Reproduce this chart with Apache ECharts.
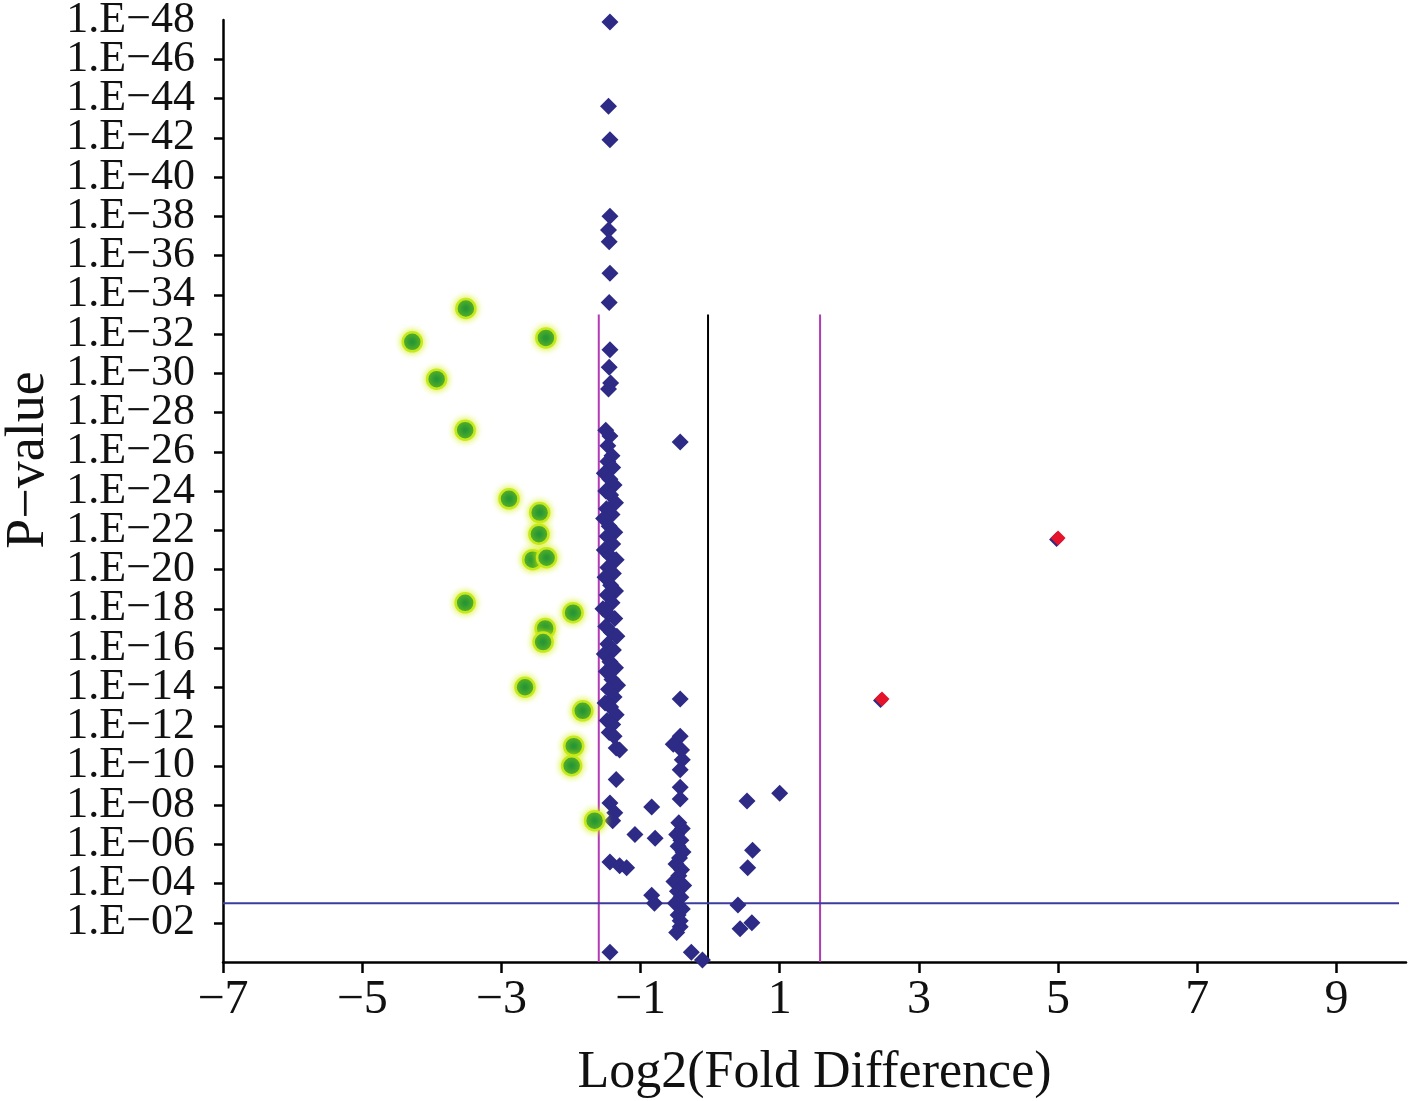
<!DOCTYPE html>
<html>
<head>
<meta charset="utf-8">
<script src="https://cdn.jsdelivr.net/npm/echarts@6/dist/echarts.min.js"></script>
<style>
html,body{margin:0;padding:0;background:#ffffff;}
#c{width:1418px;height:1101px;}
</style>
</head>
<body>
<div id="c"></div>
<script>
// ---- data ----
const xTicks = [-7, -5, -3, -1, 1, 3, 5, 7, 9];
const yTicks = [2,4,6,8,10,12,14,16,18,20,22,24,26,28,30,32,34,36,38,40,42,44,46,48];
const yTopTick = [48];

// non-significant genes (blue diamonds)
const bluePoints = [
  [-1.44,47.9],[-1.46,43.6],[-1.44,41.9],[-1.44,38.0],[-1.46,37.3],[-1.45,36.7],[-1.44,35.1],[-1.45,33.6],
  [-1.44,31.2],[-1.45,30.3],[-1.43,29.5],[-1.46,29.2],[-1.50,27.1],[-1.44,26.8],[-1.47,26.3],[-1.41,25.8],
  [-1.47,25.5],[-1.40,25.2],[-1.52,24.9],[-1.44,24.6],[-1.38,24.3],[-1.50,24.0],[-1.43,23.8],[-1.36,23.4],
  [-1.49,23.1],[-1.41,22.8],[-1.53,22.6],[-1.45,22.2],[-1.37,21.9],[-1.48,21.7],[-1.40,21.3],[-1.52,21.0],
  [-1.44,20.7],[-1.35,20.5],[-1.47,20.1],[-1.39,19.8],[-1.51,19.6],[-1.43,19.2],[-1.36,18.9],[-1.48,18.7],
  [-1.41,18.3],[-1.54,18.0],[-1.45,17.7],[-1.37,17.5],[-1.50,17.1],[-1.42,16.8],[-1.34,16.6],[-1.47,16.2],
  [-1.39,15.9],[-1.52,15.7],[-1.44,15.3],[-1.36,15.0],[-1.49,14.8],[-1.41,14.4],[-1.33,14.1],[-1.46,13.9],
  [-1.38,13.5],[-1.51,13.2],[-1.43,13.0],[-1.35,12.6],[-1.48,12.3],[-1.40,12.1],[-1.45,11.7],[-1.38,11.5],
  [-1.35,10.9],[-1.30,10.8],[-1.35,9.3],[-1.44,8.1],[-1.37,7.6],[-1.40,7.2],[-1.44,5.1],[-1.30,4.9],
  [-1.20,4.8],[-1.44,0.5],[-0.84,7.9],[-1.08,6.5],[-0.79,6.3],[-0.84,3.4],[-0.80,3.0],
  [-0.43,26.5],[-0.43,13.4],[-0.43,11.5],[-0.53,11.1],[-0.41,10.8],[-0.40,10.3],[-0.43,9.8],[-0.43,8.9],
  [-0.43,8.3],[-0.45,7.1],[-0.40,6.8],[-0.48,6.5],[-0.42,6.2],[-0.46,5.9],[-0.39,5.6],[-0.44,5.3],
  [-0.49,5.0],[-0.41,4.7],[-0.45,4.4],[-0.52,4.1],[-0.38,3.9],[-0.47,3.6],[-0.42,3.3],[-0.50,3.0],
  [-0.40,2.7],[-0.46,2.4],[-0.43,2.1],[-0.43,1.8],[-0.48,1.5],[-0.27,0.5],[-0.11,0.1],
  [0.53,8.2],[1.00,8.6],[0.61,5.7],[0.54,4.8],[0.40,2.9],[0.43,1.7],[0.60,2.0]
];

// down-regulated significant genes (green)
const downPoints = [
  [-3.51,33.3],[-4.28,31.6],[-2.36,31.8],[-3.93,29.7],[-3.52,27.1],[-2.89,23.6],[-2.45,22.9],[-2.46,21.8],
  [-2.55,20.5],[-2.35,20.6],[-3.52,18.3],[-1.97,17.8],[-2.37,17.0],[-2.40,16.3],[-2.66,14.0],[-1.83,12.8],
  [-1.96,11.0],[-1.99,10.0],[-1.66,7.2]
];

// up-regulated significant genes (red)
const upPoints = [
  [5.00,21.6],[2.47,13.4]
];

// threshold lines
const foldLeft = [[-1.6,0],[-1.6,33]];
const foldRight = [[1.58,0],[1.58,33]];
const zeroLine = [[-0.03,0],[-0.03,33]];
const pLine = [[-7,3],[9.9,3]];

// ---- chart ----
const font = 'Liberation Serif';
const yFmt = v => (yTicks.indexOf(v) < 0) ? '' : '1.E\u2212' + (v < 10 ? '0' + v : String(v));
const yLabelStyle = {fontFamily:font, fontSize:44, color:'#111', margin:28, hideOverlap:false, formatter:yFmt};
const chart = echarts.init(document.getElementById('c'), null, {renderer:'canvas'});
const lineSeries = (data, color, w) => ({
  type:'line', data:data, symbol:'none', silent:true, z:1,
  lineStyle:{color:color, width:w}, animation:false
});
chart.setOption({
  backgroundColor:'#ffffff',
  animation:false,
  grid:{left:223, right:12, top:20, bottom:139, containLabel:false, outerBoundsMode:'none'},
  xAxis:{
    type:'value', min:-7, max:10, interval:2,
    name:'Log2(Fold Difference)', nameLocation:'middle', nameGap:85,
    nameTextStyle:{fontFamily:font, fontSize:52, color:'#111', verticalAlign:'top'},
    axisLine:{onZero:false, lineStyle:{color:'#000', width:2.5}},
    axisTick:{show:true, length:11, lineStyle:{color:'#000', width:2.5}, customValues:xTicks},
    axisLabel:{fontFamily:font, fontSize:48, color:'#111', margin:14, customValues:xTicks,
      showMinLabel:true, showMaxLabel:true, hideOverlap:false,
      formatter:v => String(v).replace('-', '\u2212')},
    splitLine:{show:false}
  },
  yAxis:[{
    type:'value', min:0, max:48, interval:2, position:'left',
    name:'P\u2212value', nameLocation:'middle', nameGap:165, nameRotate:90,
    nameTextStyle:{fontFamily:font, fontSize:54, color:'#111', padding:[0,0,0,62]},
    axisLine:{onZero:false, lineStyle:{color:'#000', width:2.5}},
    axisTick:{show:true, length:9, lineStyle:{color:'#000', width:2.5}},
    axisLabel:Object.assign({showMinLabel:false, showMaxLabel:false}, yLabelStyle),
    splitLine:{show:false}
  },{
    type:'value', min:0, max:48, interval:2, position:'left', offset:0,
    axisLine:{show:false}, axisTick:{show:false}, splitLine:{show:false},
    axisLabel:Object.assign({customValues:yTopTick, showMinLabel:true, showMaxLabel:true}, yLabelStyle)
  }],
  series:[
    lineSeries(foldLeft, '#b23ab4', 2),
    lineSeries(foldRight, '#b23ab4', 2),
    lineSeries(zeroLine, '#000000', 2),
    lineSeries(pLine, '#3c3c9c', 2),
    {
      type:'scatter', data:bluePoints, symbol:'diamond', symbolSize:17, z:2,
      itemStyle:{color:'#2d2b85', opacity:1}
    },
    {
      type:'scatter', data:downPoints, symbol:'circle', symbolSize:19, z:3,
      itemStyle:{color:'#1c9238', opacity:1, borderColor:'#c6e81e', borderWidth:2.5,
        shadowBlur:7, shadowColor:'rgba(214,240,0,0.95)'}
    },
    {
      type:'scatter', data:upPoints, symbol:'diamond', symbolSize:15, z:4,
      itemStyle:{color:'#e5142b', opacity:1, shadowColor:'#2d2b85', shadowOffsetX:-1.5, shadowOffsetY:1.5, shadowBlur:0}
    }
  ]
});
</script>
</body>
</html>
